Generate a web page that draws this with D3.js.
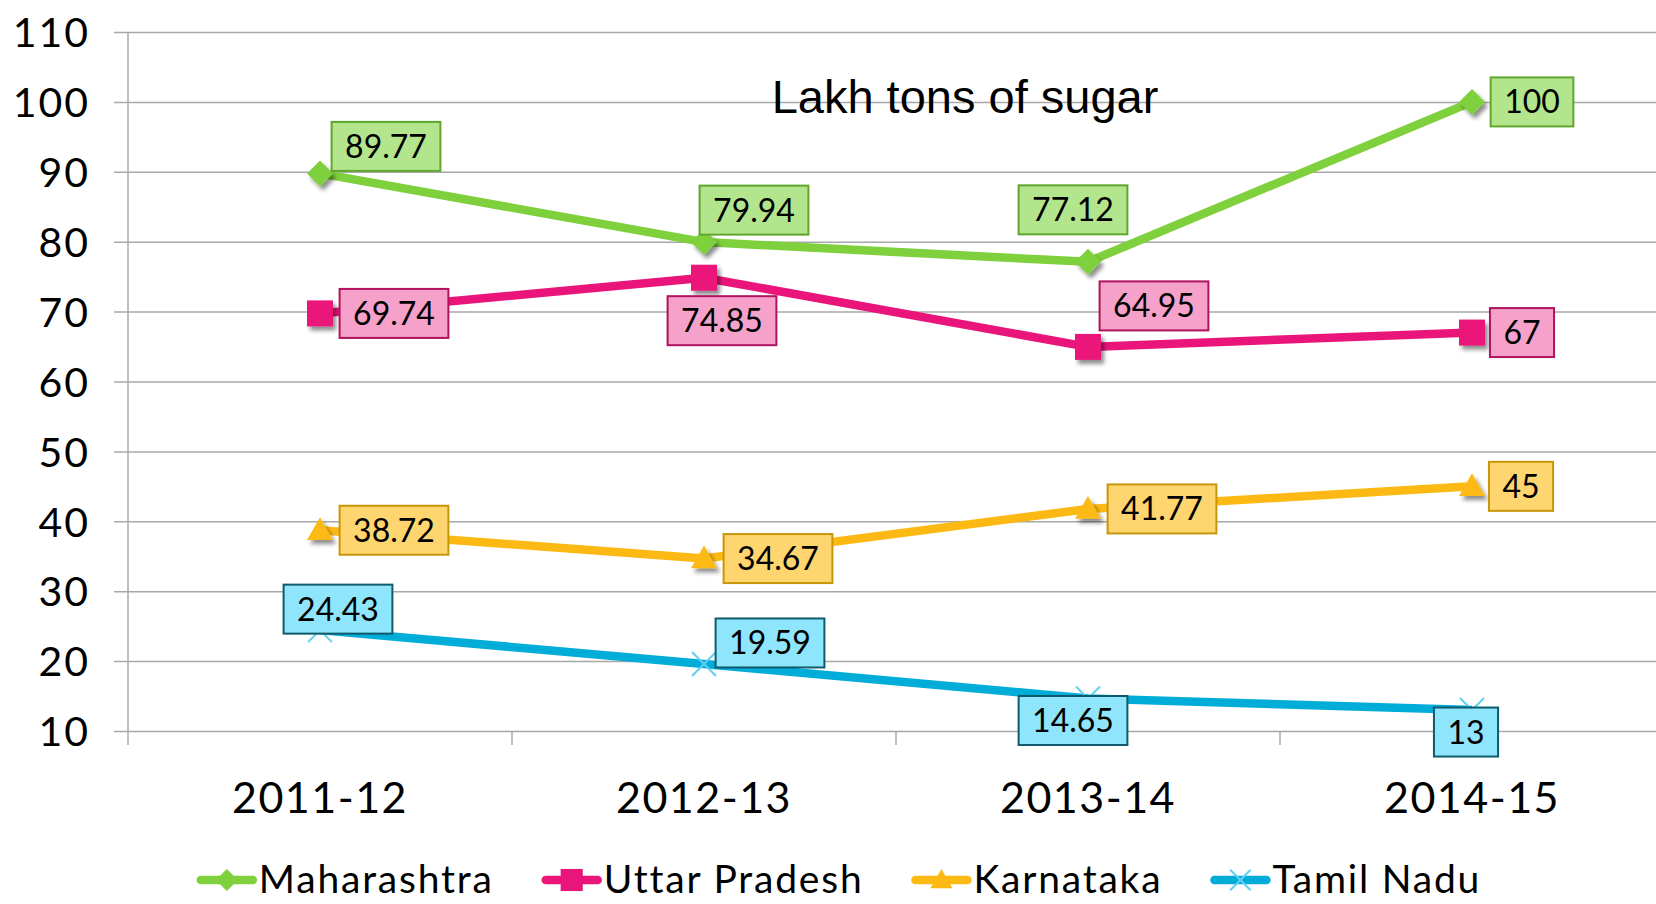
<!DOCTYPE html>
<html>
<head>
<meta charset="utf-8">
<script src="https://cdn.jsdelivr.net/npm/d3@7"></script>
<style>
  body { margin: 0; background: #fff; }
  svg { display: block; }
  .axis text, .legend text, .label text { font-family: "Century Gothic", "URW Gothic", Lato, sans-serif; fill: #000; }
  .axis .domain { display: none; }
</style>
</head>
<body>
<svg id="chart"></svg>
<script>
// chart data
let categories = ['2011-12', '2012-13', '2013-14', '2014-15'];
let seriesNames = ['Maharashtra', 'Uttar Pradesh', 'Karnataka', 'Tamil Nadu'];
let maharashtra = [89.77, 79.94, 77.12, 100];
let uttarPradesh = [69.74, 74.85, 64.95, 67];
let karnataka = [38.72, 34.67, 41.77, 45];
let tamilNadu = [24.43, 19.59, 14.65, 13];
let yTicks = [10, 20, 30, 40, 50, 60, 70, 80, 90, 100, 110];
let title = 'Lakh tons of sugar';

// looks of each series
let styles = [
  { line: '#7ed13c', fill: '#b3e58d', edge: '#5fa52e', marker: 'diamond' },
  { line: '#ea157a', fill: '#f5a1c9', edge: '#b0125d', marker: 'square' },
  { line: '#fdb913', fill: '#fed56e', edge: '#c8960b', marker: 'triangle' },
  { line: '#00acd8', fill: '#8fe5fb', edge: '#0f5a6c', marker: 'cross' }
];

// where each data label box sits, relative to its point (box centre)
let labelOffsets = [
  [[66, -27], [50, -32], [-15, -52], [60, 0]],
  [[74, 0], [18, 43], [66, -41], [50, 0]],
  [[74, 0], [74, 0], [74, 0], [49, 0]],
  [[18, -21], [66, -21], [-15, 22], [-6, 22]]
];

let config = { svg: {}, margin: {}, plot: {} };
config.svg.width = 1656;
config.svg.height = 904;
config.margin.top = 32;
config.margin.left = 128;
config.plot.width = 1536;
config.plot.height = 699;

let svg = d3.select('svg#chart')
  .attr('width', config.svg.width)
  .attr('height', config.svg.height);

let defs = svg.append('defs');
let shadow = defs.append('filter').attr('id', 'shadow')
  .attr('x', '-50%').attr('y', '-50%').attr('width', '200%').attr('height', '200%');
shadow.append('feDropShadow')
  .attr('dx', 3).attr('dy', 4).attr('stdDeviation', 2)
  .attr('flood-color', '#000').attr('flood-opacity', 0.45);

let plot = svg.append('g')
  .attr('transform', translate(config.margin.left, config.margin.top));

let scale = {};
scale.x = d3.scaleBand().domain(categories).range([0, config.plot.width]);
scale.y = d3.scaleLinear().domain([10, 110]).range([config.plot.height, 0]);

let cx = d => scale.x(d) + scale.x.bandwidth() / 2;

// y axis with gridlines
let axisY = d3.axisLeft(scale.y)
  .tickValues(yTicks)
  .tickSize(-config.plot.width)
  .tickPadding(38)
  .tickFormat(d3.format('d'));

let gy = plot.append('g').attr('class', 'axis').call(axisY);
gy.selectAll('.tick line')
  .attr('x1', -14)
  .attr('stroke', '#a8a8a8')
  .attr('stroke-width', 1.5);
gy.selectAll('.tick text')
  .style('font-size', '41px')
  .style('letter-spacing', '2px')
  .attr('dy', '0.36em');

// vertical axis line
plot.append('line')
  .attr('x1', 0).attr('x2', 0)
  .attr('y1', 0).attr('y2', config.plot.height + 14)
  .attr('stroke', '#a8a8a8').attr('stroke-width', 1.5);

// category boundary ticks
plot.selectAll('line.xtick')
  .data(categories.slice(1))
  .enter().append('line')
  .attr('class', 'xtick')
  .attr('x1', d => scale.x(d)).attr('x2', d => scale.x(d))
  .attr('y1', config.plot.height).attr('y2', config.plot.height + 14)
  .attr('stroke', '#a8a8a8').attr('stroke-width', 1.5);

// category labels
plot.append('g').attr('class', 'axis')
  .selectAll('text')
  .data(categories)
  .enter().append('text')
  .attr('x', d => cx(d))
  .attr('y', 781)
  .attr('text-anchor', 'middle')
  .style('font-size', '43px')
  .style('letter-spacing', '1.5px')
  .text(d => d);

// title
svg.append('text')
  .attr('x', 965)
  .attr('y', 113)
  .attr('text-anchor', 'middle')
  .style('font-family', 'Arial, "Liberation Sans", sans-serif')
  .style('font-size', '47px')
  .style('fill', '#000')
  .text(title);

let series = [maharashtra, uttarPradesh, karnataka, tamilNadu].map((values, i) => ({
  name: seriesNames[i],
  style: styles[i],
  points: values.map((v, j) => ({ cat: categories[j], value: v, offset: labelOffsets[i][j] }))
}));

let line = d3.line()
  .x(d => cx(d.cat))
  .y(d => scale.y(d.value));

function drawMarker(g, type, color, s) {
  s = s || 1;
  if (type === 'diamond') {
    let r = 13 * s;
    g.append('path').attr('d', `M0,${-r}L${r},0L0,${r}L${-r},0Z`).attr('fill', color);
  } else if (type === 'square') {
    let r = 13 * s;
    g.append('rect').attr('x', -r).attr('y', -r).attr('width', 2 * r).attr('height', 2 * r).attr('fill', color);
  } else if (type === 'triangle') {
    let r = 13 * s;
    g.append('path').attr('d', `M0,${-r}L${r},${r * 0.75}L${-r},${r * 0.75}Z`).attr('fill', color);
  } else {
    let r = 12 * s;
    g.append('path').attr('d', `M${-r},${-r}L${r},${r}M${-r},${r}L${r},${-r}`)
      .attr('stroke', '#5fd0f0').attr('stroke-width', 2).attr('fill', 'none');
  }
}

series.forEach(s => {
  let g = plot.append('g').attr('class', 'series');
  g.append('path')
    .datum(s.points)
    .attr('d', line)
    .attr('fill', 'none')
    .attr('stroke', s.style.line)
    .attr('stroke-width', 8.5)
    .attr('stroke-linejoin', 'round');

  g.selectAll('g.marker')
    .data(s.points)
    .enter().append('g')
    .attr('class', 'marker')
    .attr('filter', s.style.marker === 'cross' ? null : 'url(#shadow)')
    .attr('transform', d => translate(cx(d.cat), scale.y(d.value)))
    .each(function() { drawMarker(d3.select(this), s.style.marker, s.style.line); });
});

// data labels on top
series.forEach(s => {
  let labels = plot.selectAll(null)
    .data(s.points)
    .enter().append('g')
    .attr('class', 'label')
    .attr('transform', d => translate(cx(d.cat) + d.offset[0], scale.y(d.value) + d.offset[1]));

  labels.append('rect');
  let texts = labels.append('text')
    .attr('text-anchor', 'middle')
    .attr('dy', '0.36em')
    .style('font-size', '32px')
    .text(d => d.value);

  texts.each(function() {
    let w = this.getComputedTextLength() + 27;
    d3.select(this.parentNode).select('rect')
      .attr('x', -w / 2).attr('y', -24.5)
      .attr('width', w).attr('height', 49)
      .attr('fill', s.style.fill)
      .attr('stroke', s.style.edge)
      .attr('stroke-width', 2);
  });
});

// legend
let legend = svg.append('g').attr('class', 'legend');
let items = legend.selectAll('g')
  .data(series)
  .enter().append('g');

items.append('line')
  .attr('x1', 4).attr('x2', 56)
  .attr('y1', 0).attr('y2', 0)
  .attr('stroke', d => d.style.line)
  .attr('stroke-width', 8.5)
  .attr('stroke-linecap', 'round');

items.each(function(d) {
  let m = d3.select(this).append('g').attr('transform', translate(30, 0));
  drawMarker(m, d.style.marker, d.style.line, 0.85);
});

items.append('text')
  .attr('x', 62)
  .attr('y', 13)
  .style('font-size', '39px')
  .style('letter-spacing', '1.8px')
  .text(d => d.name);

// lay out legend items in a row
let widths = [];
items.select('text').each(function() { widths.push(62 + this.getComputedTextLength()); });
let gap = 48;
let total = d3.sum(widths) + gap * (widths.length - 1);
let start = 839 - total / 2;
items.attr('transform', (d, i) => translate(start + d3.sum(widths.slice(0, i)) + gap * i, 880));

// helper method to make translating easier
function translate(x, y) {
  return 'translate(' + x + ',' + y + ')';
}
</script>
</body>
</html>
